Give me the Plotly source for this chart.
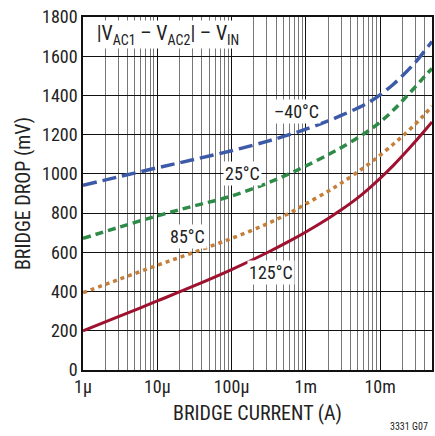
import plotly.graph_objects as go

current = [1e-6, 3e-6, 1e-5, 3e-5, 1e-4, 3e-4, 6e-4, 1e-3, 2e-3, 3e-3, 5e-3, 7e-3,
           1e-2, 1.5e-2, 2e-2, 3e-2, 4e-2, 5e-2]
drop_m40 = [942, 985, 1031, 1072, 1118, 1166, 1200, 1228, 1270, 1298, 1336, 1364,
            1403, 1456, 1500, 1570, 1628, 1675]
drop_25 = [671, 727, 786, 835, 887, 952, 1001, 1040, 1098, 1134, 1184, 1220,
           1264, 1324, 1373, 1445, 1498, 1538]
drop_85 = [394, 461, 534, 598, 671, 745, 800, 847, 912, 953, 1010, 1050,
           1095, 1151, 1192, 1255, 1304, 1345]
drop_125 = [200, 272, 352, 426, 512, 598, 657, 704, 773, 817, 878, 924,
            977, 1042, 1092, 1166, 1221, 1265]

xtick_vals = [1e-6, 1e-5, 1e-4, 1e-3, 1e-2]
xtick_text = ["1µ", "10µ", "100µ", "1m", "10m"]
ytick_vals = list(range(0, 1801, 200))

FONT = "Liberation Sans Narrow, Roboto Condensed, Arial Narrow, Liberation Sans, sans-serif"
TXT = "#222"

fig = go.Figure()
series = [
    (drop_m40, "#3d5aa8", "14px,6px", 3.5),
    (drop_25, "#2e8a47", "8px,5px", 3.5),
    (drop_85, "#c47f3b", "4px,4px", 3.5),
    (drop_125, "#9e1230", "solid", 3),
]
for ys, col, dash, w in series:
    fig.add_trace(go.Scatter(x=current, y=ys, mode="lines",
                             line=dict(color=col, dash=dash, width=w, shape="spline", smoothing=1.0),
                             showlegend=False, hoverinfo="skip"))

labels = [("–40°C", -3.128, 1320), ("25°C", -3.852, 1003), ("85°C", -4.591, 681), ("125°C", -3.463, 498)]
for t, lx, ly in labels:
    fig.add_annotation(x=lx, y=ly, text=t, showarrow=False, bgcolor="white",
                       font=dict(family=FONT, size=18, color=TXT), borderpad=1)

fig.add_annotation(xref="paper", yref="paper", x=0.0085, y=0.9915, xanchor="left", yanchor="top",
                   text="|V<sub>AC1</sub> – V<sub>AC2</sub>| – V<sub>IN</sub>", showarrow=False,
                   width=162, height=27, align="center",
                   bgcolor="white", font=dict(family=FONT, size=20, color=TXT), borderpad=0)
fig.add_annotation(xref="paper", yref="paper", x=0.994, y=-0.1376, xanchor="right", yanchor="top",
                   text="3331 G07", showarrow=False, font=dict(family=FONT, size=10, color=TXT))

fig.update_xaxes(type="log", range=[-6, -1.301], tickvals=xtick_vals, ticktext=xtick_text,
                 showgrid=True, gridcolor="#111", gridwidth=1.3,
                 minor=dict(showgrid=True, dtick="D1", gridcolor="#777", gridwidth=1.2, ticks=""),
                 showline=True, linecolor="#111", linewidth=1.5, mirror=True, ticks="",
                 tickfont=dict(family=FONT, size=18, color=TXT),
                 title=dict(text="BRIDGE CURRENT (A)", font=dict(family=FONT, size=20, color=TXT), standoff=10))
fig.update_yaxes(range=[0, 1800], tickvals=ytick_vals, showgrid=True, gridcolor="#111", gridwidth=1.3,
                 showline=True, linecolor="#111", linewidth=1.5, mirror=True, ticks="",
                 tickfont=dict(family=FONT, size=18, color=TXT),
                 title=dict(text="BRIDGE DROP (mV)", font=dict(family=FONT, size=20, color=TXT), standoff=6),
                 zeroline=False)
fig.update_layout(width=435, height=436, margin=dict(l=83, r=1, t=17, b=66),
                  plot_bgcolor="white", paper_bgcolor="white")
fig.write_html("out.html")
